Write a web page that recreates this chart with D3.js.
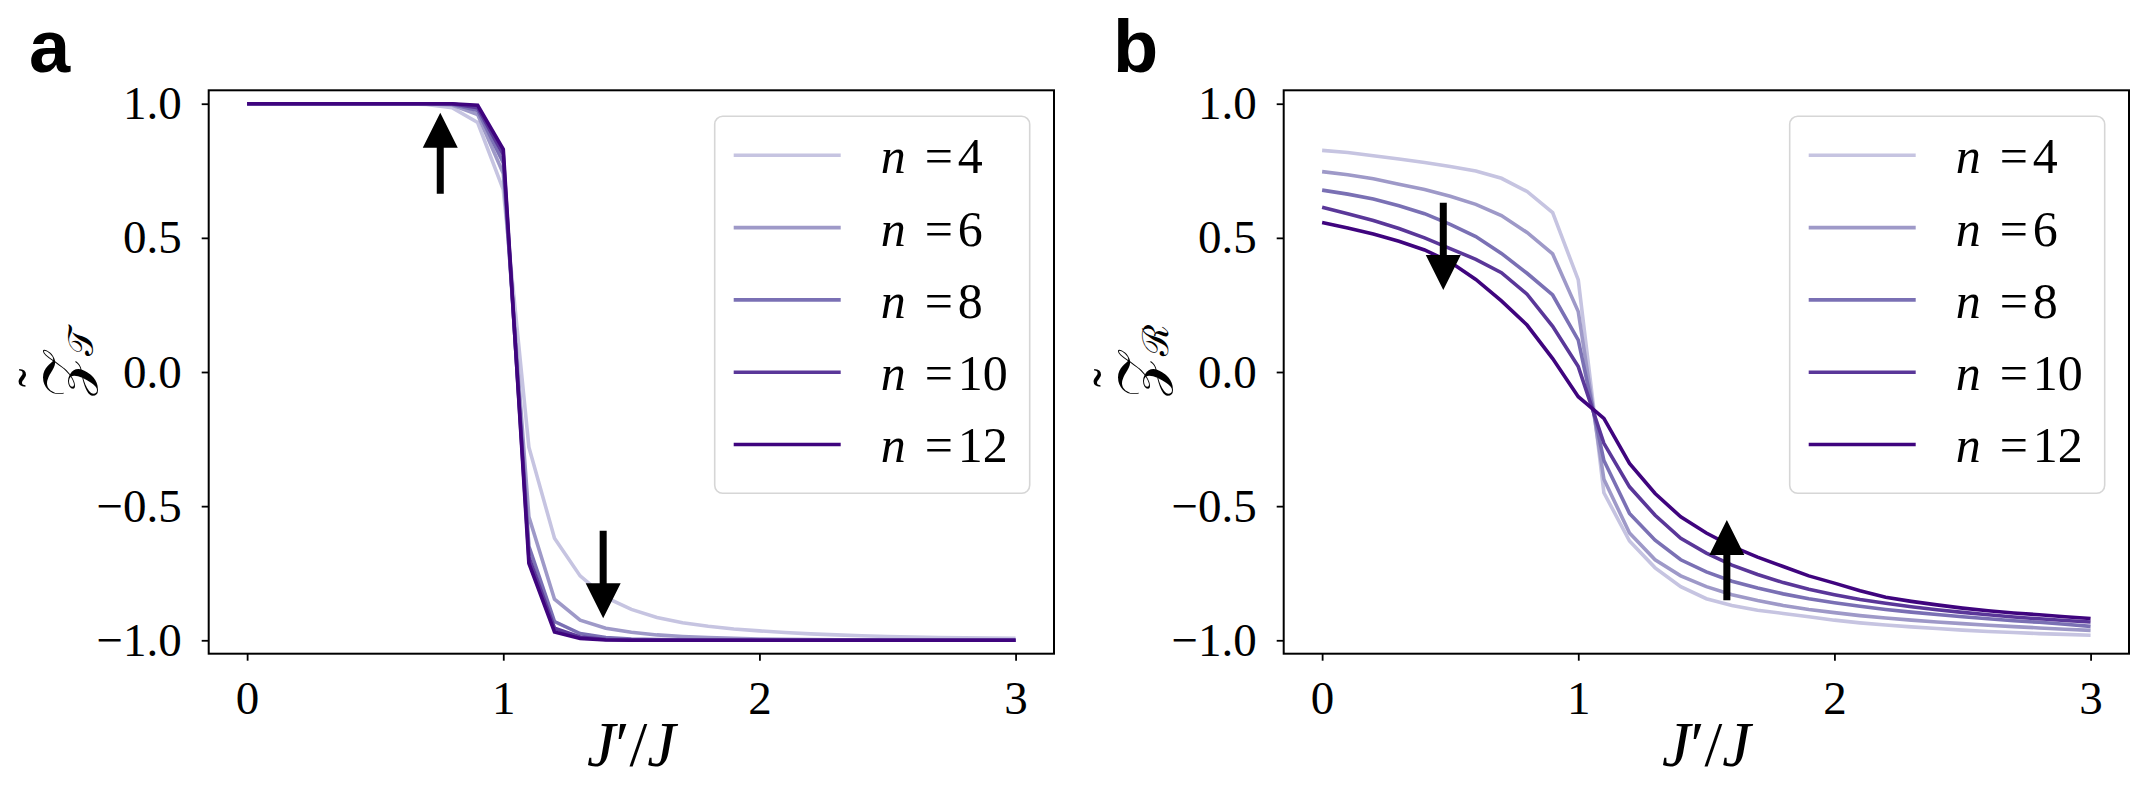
<!DOCTYPE html>
<html>
<head>
<meta charset="utf-8">
<script src="https://cdn.jsdelivr.net/npm/d3@7"></script>
<style>
  body { margin: 0; background: #fff; }
</style>
</head>
<body>
<svg width="2134" height="797"></svg>
<script>
// J'/J grid, 0 .. 3 in steps of 0.1
var ratio = d3.range(31).map(function (i) { return +(i * 0.1).toFixed(1); });

var sizes = [4, 6, 8, 10, 12];
var colors = ['#c6c4e1', '#9e99c8', '#7a70b4', '#5a3799', '#3f047e'];

// panel a: Z_T
var zT4  = [1, 1, 1, 1, 1, 1, 1, 0.997, 0.985, 0.93, 0.68, -0.28, -0.62, -0.76, -0.84, -0.885, -0.915, -0.935, -0.948, -0.958, -0.965, -0.971, -0.976, -0.98, -0.983, -0.986, -0.988, -0.99, -0.991, -0.992, -0.993];
var zT6  = [1, 1, 1, 1, 1, 1, 1, 1, 0.995, 0.96, 0.74, -0.54, -0.847, -0.925, -0.955, -0.97, -0.98, -0.986, -0.99, -0.993, -0.995, -0.996, -0.997, -0.998, -0.998, -0.999, -0.999, -0.999, -1, -1, -1];
var zT8  = [1, 1, 1, 1, 1, 1, 1, 1, 0.998, 0.975, 0.78, -0.65, -0.93, -0.975, -0.99, -0.995, -0.997, -0.998, -0.999, -0.999, -1, -1, -1, -1, -1, -1, -1, -1, -1, -1, -1];
var zT10 = [1, 1, 1, 1, 1, 1, 1, 1, 1, 0.985, 0.81, -0.69, -0.955, -0.988, -0.997, -0.999, -1, -1, -1, -1, -1, -1, -1, -1, -1, -1, -1, -1, -1, -1, -1];
var zT12 = [1, 1, 1, 1, 1, 1, 1, 1, 1, 0.994, 0.83, -0.713, -0.969, -0.993, -0.999, -1, -1, -1, -1, -1, -1, -1, -1, -1, -1, -1, -1, -1, -1, -1, -1];

// panel b: Z_R
var zR4  = [0.826, 0.818, 0.806, 0.794, 0.781, 0.766, 0.749, 0.722, 0.673, 0.594, 0.343, -0.45, -0.63, -0.73, -0.80, -0.845, -0.87, -0.888, -0.9, -0.912, -0.925, -0.935, -0.943, -0.95, -0.956, -0.962, -0.967, -0.971, -0.975, -0.978, -0.981];
var zR6  = [0.747, 0.735, 0.72, 0.70, 0.68, 0.655, 0.625, 0.583, 0.52, 0.44, 0.225, -0.40, -0.60, -0.70, -0.76, -0.80, -0.83, -0.852, -0.87, -0.885, -0.897, -0.908, -0.917, -0.925, -0.932, -0.938, -0.944, -0.949, -0.954, -0.959, -0.963];
var zR8  = [0.678, 0.663, 0.645, 0.62, 0.59, 0.55, 0.505, 0.442, 0.368, 0.287, 0.119, -0.33, -0.527, -0.627, -0.70, -0.745, -0.78, -0.805, -0.827, -0.845, -0.86, -0.873, -0.885, -0.895, -0.904, -0.912, -0.92, -0.927, -0.933, -0.94, -0.948];
var zR10 = [0.614, 0.59, 0.565, 0.535, 0.50, 0.46, 0.42, 0.37, 0.29, 0.17, 0.02, -0.266, -0.428, -0.534, -0.62, -0.675, -0.72, -0.755, -0.785, -0.81, -0.83, -0.848, -0.862, -0.875, -0.886, -0.896, -0.905, -0.913, -0.92, -0.926, -0.932];
var zR12 = [0.557, 0.537, 0.514, 0.487, 0.455, 0.41, 0.345, 0.265, 0.175, 0.05, -0.092, -0.173, -0.341, -0.453, -0.54, -0.60, -0.65, -0.69, -0.725, -0.76, -0.787, -0.815, -0.84, -0.855, -0.868, -0.88, -0.89, -0.898, -0.905, -0.912, -0.919];

var xTicks = [0, 1, 2, 3];
var yTicks = [-1, -0.5, 0, 0.5, 1];

// arrows: [x, tail y, tip y] in data units
var arrowsT = [[0.754, 0.664, 0.966], [1.39, -0.592, -0.918]];
var arrowsR = [[0.473, 0.631, 0.306], [1.58, -0.851, -0.552]];

var SERIF = '"Liberation Serif"';
var svg = d3.select('svg');

drawPanel({left: 208.7, letter: 'a', letterX: 29, sub: '\uD835\uDCAF', series: [zT4, zT6, zT8, zT10, zT12], arrows: arrowsT});
drawPanel({left: 1283.7, letter: 'b', letterX: 1113, sub: '\u211B', series: [zR4, zR6, zR8, zR10, zR12], arrows: arrowsR});

function drawPanel(p) {
    var top = 90.3, width = 845.3, height = 563.4;
    var g = svg.append('g').attr('transform', 'translate(' + p.left + ',' + top + ')');

    var x = d3.scaleLinear().domain([-0.15, 3.15]).range([0, width]);
    var y = d3.scaleLinear().domain([-1.05, 1.05]).range([height, 0]);

    // axes
    var yAxis = g.append('g')
        .call(d3.axisLeft(y).tickValues(yTicks).tickFormat(d3.format('.1f')).tickSize(7).tickPadding(20));
    var xAxis = g.append('g')
        .attr('transform', 'translate(0,' + height + ')')
        .call(d3.axisBottom(x).tickValues(xTicks).tickFormat(d3.format('d')).tickSize(7).tickPadding(20));
    [xAxis, yAxis].forEach(function (a) {
        a.attr('font-family', null).attr('font-size', null);
        a.select('.domain').remove();
        a.selectAll('.tick line').attr('stroke', '#000').attr('stroke-width', 1.8);
        a.selectAll('.tick text')
            .attr('fill', '#000')
            .style('font-size', '47px')
            .style('font-family', SERIF);
    });

    // curves
    var line = d3.line()
        .x(function (d, i) { return x(ratio[i]); })
        .y(function (d) { return y(d); });
    p.series.forEach(function (s, k) {
        g.append('path')
            .attr('d', line(s))
            .attr('fill', 'none')
            .attr('stroke', colors[k])
            .attr('stroke-width', 3.6)
            .attr('stroke-linejoin', 'miter');
    });

    // arrows
    p.arrows.forEach(function (a) {
        var ax = x(a[0]), y0 = y(a[1]), y1 = y(a[2]);
        var dir = y1 < y0 ? -1 : 1;
        var hl = 35, hw = 17.5, sw = 3.5;
        var yb = y1 - dir * hl;
        var pts = [[ax - sw, y0], [ax - sw, yb], [ax - hw, yb], [ax, y1], [ax + hw, yb], [ax + sw, yb], [ax + sw, y0]];
        g.append('path')
            .attr('d', 'M' + pts.join('L') + 'Z')
            .attr('fill', '#000');
    });

    // frame
    g.append('rect')
        .attr('width', width).attr('height', height)
        .attr('fill', 'none').attr('stroke', '#000').attr('stroke-width', 2);

    // legend
    var lg = g.append('g').attr('transform', 'translate(506,26)');
    lg.append('rect')
        .attr('width', 315).attr('height', 377)
        .attr('rx', 8).attr('ry', 8)
        .attr('fill', '#fff').attr('fill-opacity', 0.85)
        .attr('stroke', '#d6d6d6').attr('stroke-width', 1.6);
    sizes.forEach(function (n, k) {
        var ly = 39 + k * 72.3;
        lg.append('line')
            .attr('x1', 19).attr('x2', 126)
            .attr('y1', ly).attr('y2', ly)
            .attr('stroke', colors[k]).attr('stroke-width', 3.6);
        var t = lg.append('text').attr('y', ly + 18)
            .style('font-family', SERIF).style('font-size', '50px');
        t.append('tspan').attr('x', 166).style('font-style', 'italic').text('n');
        t.append('tspan').attr('x', 210).text('=');
        t.append('tspan').attr('x', 243).text(n);
    });

    // x label
    var xl = g.append('text')
        .attr('x', width / 2).attr('y', height + 112)
        .attr('text-anchor', 'middle')
        .style('font-family', SERIF)
        .style('font-size', '64px');
    xl.append('tspan').style('font-style', 'italic').text('J');
    xl.append('tspan').text('\u2032/');
    xl.append('tspan').style('font-style', 'italic').text('J');

    // y label (rotated): script Z with a tilde and a script subscript
    var yl = g.append('g')
        .attr('transform', 'translate(-124,' + (height / 2 + 26) + ') rotate(-90)');
    yl.append('text')
        .attr('x', 0).attr('y', 0)
        .style('font-family', SERIF)
        .style('font-size', '60px')
        .text('\uD835\uDCB5');
    yl.append('text')
        .attr('x', 20).attr('y', -28)
        .attr('text-anchor', 'middle')
        .style('font-family', SERIF)
        .style('font-size', '56px')
        .text('\u02DC');
    yl.append('text')
        .attr('x', 42).attr('y', 8)
        .style('font-family', SERIF)
        .style('font-size', '36px')
        .text(p.sub);

    // panel letter
    svg.append('text')
        .attr('x', p.letterX).attr('y', 72)
        .style('font-family', '"Liberation Sans", Arial, sans-serif')
        .style('font-weight', 'bold')
        .style('font-size', '74px')
        .text(p.letter);
}
</script>
</body>
</html>
